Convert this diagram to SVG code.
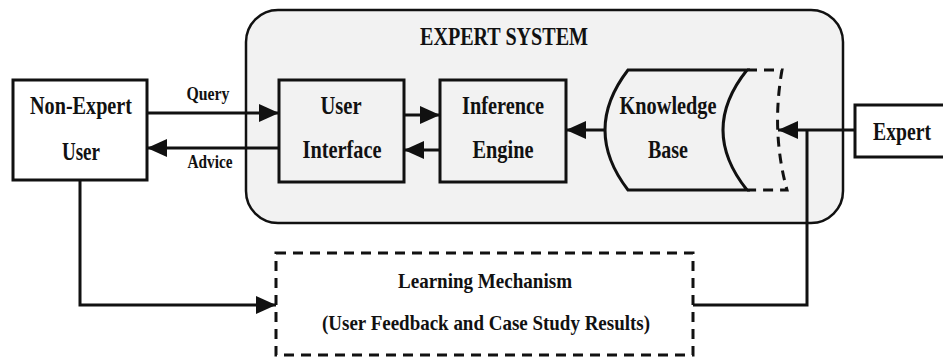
<svg xmlns="http://www.w3.org/2000/svg" width="943" height="357" viewBox="0 0 943 357">
<style>
text{font-family:"Liberation Serif","Times New Roman",serif;font-weight:bold;fill:#111;text-anchor:middle}
.box{fill:#fff;stroke:#111;stroke-width:3}
.inner{fill:#f2f2f2;stroke:#111;stroke-width:3}
.ln{fill:none;stroke:#111;stroke-width:3}
.dash{fill:none;stroke:#111;stroke-width:3;stroke-dasharray:10 7}
.t25{font-size:25px}
.t22{font-size:22px}
.t18{font-size:18px}
</style>
<defs>
<marker id="ah" markerUnits="userSpaceOnUse" markerWidth="20" markerHeight="18" refX="20" refY="9" orient="auto">
<path d="M0,0 L20,9 L0,18 Z" fill="#111"/>
</marker>
</defs>
<rect width="943" height="357" fill="#fff"/>
<g id="expert-system">
<rect x="246" y="10" width="597" height="213" rx="32" ry="32" fill="#f2f2f2" stroke="#111" stroke-width="2.5"/>
<text class="t25" x="504" y="45" textLength="168" lengthAdjust="spacingAndGlyphs">EXPERT SYSTEM</text>
</g>
<g id="non-expert-user">
<rect class="box" x="13" y="80" width="134" height="100"/>
<text class="t25" x="81" y="114" textLength="102" lengthAdjust="spacingAndGlyphs">Non-Expert</text>
<text class="t25" x="81" y="160" textLength="38" lengthAdjust="spacingAndGlyphs">User</text>
</g>
<g id="user-interface">
<rect class="inner" x="279" y="80" width="125" height="102"/>
<text class="t25" x="341" y="114" textLength="41" lengthAdjust="spacingAndGlyphs">User</text>
<text class="t25" x="342" y="158" textLength="79" lengthAdjust="spacingAndGlyphs">Interface</text>
</g>
<g id="inference-engine">
<rect class="inner" x="440" y="80" width="126" height="102"/>
<text class="t25" x="503" y="114" textLength="82" lengthAdjust="spacingAndGlyphs">Inference</text>
<text class="t25" x="503" y="158" textLength="61" lengthAdjust="spacingAndGlyphs">Engine</text>
</g>
<g id="knowledge-base">
<path d="M628,70 L747,70 Q699,130 747,190 L628,190 Q582,130 628,70 Z" fill="#f2f2f2" stroke="#111" stroke-width="3"/>
<path class="dash" d="M747,70 L782,70 C775,110 776,150 787,190 L747,190" stroke-dasharray="9 6"/>
<text class="t25" x="668" y="114" textLength="97" lengthAdjust="spacingAndGlyphs">Knowledge</text>
<text class="t25" x="668" y="158" textLength="40" lengthAdjust="spacingAndGlyphs">Base</text>
</g>
<g id="expert">
<rect class="box" x="855" y="105" width="95" height="52"/>
<text class="t25" x="902" y="140" textLength="58" lengthAdjust="spacingAndGlyphs">Expert</text>
</g>
<g id="learning-mechanism">
<rect class="dash" x="276" y="253" width="417" height="102" fill="#fff"/>
<text class="t22" x="485" y="288" textLength="174" lengthAdjust="spacingAndGlyphs">Learning Mechanism</text>
<text class="t22" x="486" y="330" textLength="328" lengthAdjust="spacingAndGlyphs">(User Feedback and Case Study Results)</text>
</g>
<g id="connectors">
<line class="ln" x1="147" y1="113" x2="279" y2="113" marker-end="url(#ah)"/>
<line class="ln" x1="279" y1="148" x2="147" y2="148" marker-end="url(#ah)"/>
<line class="ln" x1="404" y1="115" x2="440" y2="115" marker-end="url(#ah)"/>
<line class="ln" x1="440" y1="150" x2="404" y2="150" marker-end="url(#ah)"/>
<line class="ln" x1="605" y1="130" x2="566" y2="130" marker-end="url(#ah)"/>
<line class="ln" x1="855" y1="130" x2="778" y2="130" marker-end="url(#ah)"/>
<polyline class="ln" points="80,180 80,305 276,305" marker-end="url(#ah)"/>
<polyline class="ln" points="693,305 807,305 807,130"/>
<text class="t18" x="208" y="100" textLength="43" lengthAdjust="spacingAndGlyphs">Query</text>
<text class="t18" x="210" y="168" textLength="45" lengthAdjust="spacingAndGlyphs">Advice</text>
</g>
</svg>
